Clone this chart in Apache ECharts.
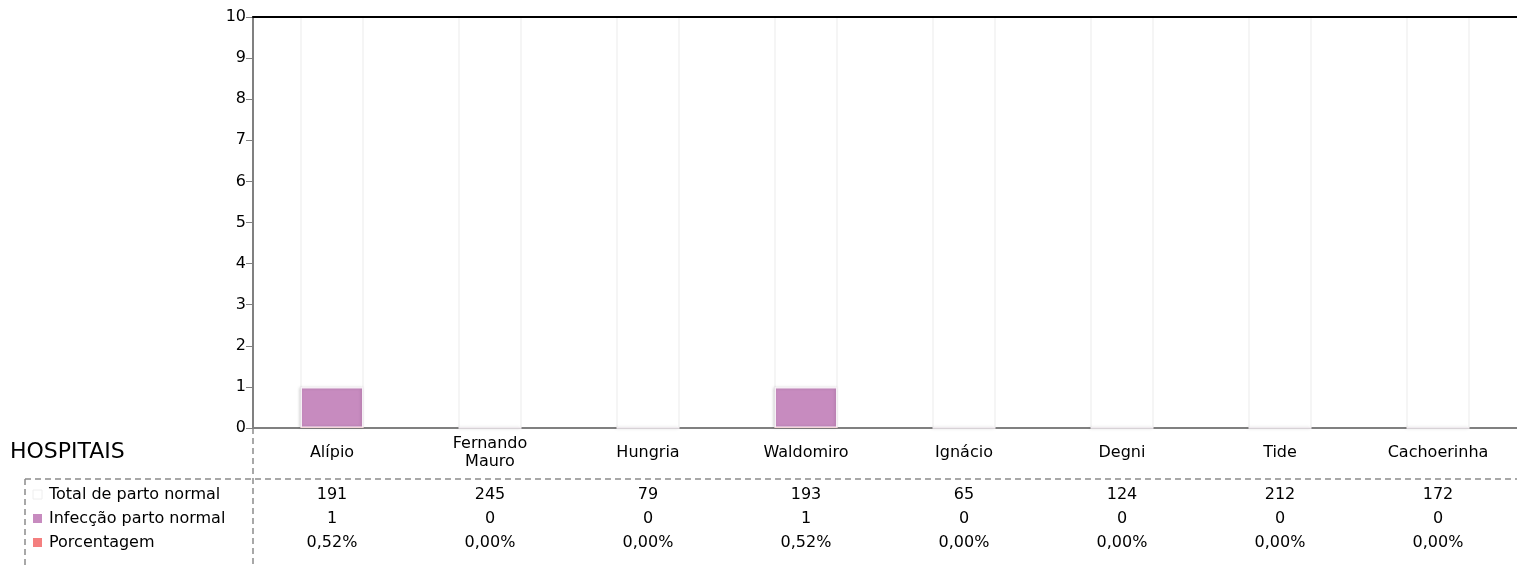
<!DOCTYPE html>
<html><head><meta charset="utf-8">
<script src="https://cdn.jsdelivr.net/npm/echarts@6/dist/echarts.min.js"></script>
<style>html,body{margin:0;padding:0;background:#fff}#c{width:1517px;height:567px}</style>
</head><body><div id="c"></div>
<script>
const categories = ['Alípio','Fernando\nMauro','Hungria','Waldomiro','Ignácio','Degni','Tide','Cachoerinha'];
const totalParto = [191,245,79,193,65,124,212,172];
const infeccao = [1,0,0,1,0,0,0,0];
const porcentagem = [0.0052,0,0,0.0052,0,0,0,0];
const yTicks = [0,1,2,3,4,5,6,7,8,9,10];
const rowNames = ['Total de parto normal','Infecção parto normal','Porcentagem'];
const rowColors = ['#ffffff','#C78BBF','#F47F7F'];

const FONT = 'DejaVu Sans';
const FS = 16;
const fmtPct = v => (v*100).toFixed(2).replace('.',',') + '%';

const chart = echarts.init(document.getElementById('c'), null, {renderer:'canvas'});
const GL = 253, GT = 17, GB = 139;
const axisY = 567 - GB;

function rowAxis(data, y){
  return {
    type:'category', gridIndex:0, position:'bottom', data:data,
    axisLine:{show:false}, axisTick:{show:false}, splitLine:{show:false},
    axisLabel:{margin:y-axisY, verticalAlign:'middle', color:'#000', fontFamily:FONT, fontSize:FS, interval:0}
  };
}

const graphics = [
  {type:'text', x:10, y:452, style:{text:'HOSPITAIS', fill:'#000', font:'22px "DejaVu Sans"', verticalAlign:'middle'}},
  {type:'line', shape:{x1:GL, y1:axisY, x2:GL, y2:567}, style:{stroke:'#8c8c8c', lineWidth:1.5, lineDash:[6,4]}},
  {type:'line', shape:{x1:25, y1:479, x2:1517, y2:479}, style:{stroke:'#8c8c8c', lineWidth:1.5, lineDash:[6,4]}},
  {type:'line', shape:{x1:25, y1:479, x2:25, y2:567}, style:{stroke:'#8c8c8c', lineWidth:1.5, lineDash:[6,4]}}
];
const rowYs = [494,518,542];
rowNames.forEach((n,i)=>{
  graphics.push({type:'rect', shape:{x:33, y:rowYs[i]-4, width:9, height:9},
    style:{fill:rowColors[i], stroke: i===0 ? '#eeeeee' : null, lineWidth:1}});
  graphics.push({type:'text', x:49, y:rowYs[i]+1, style:{text:n, fill:'#000', font:FS+'px "DejaVu Sans"', verticalAlign:'middle'}});
});

chart.setOption({
  animation:false,
  grid:{left:GL, right:0, top:GT, bottom:GB, containLabel:false},
  xAxis:[
    {type:'category', data:categories,
     axisLine:{lineStyle:{color:'#808080', width:2}}, axisTick:{show:false},
     splitLine:{show:false},
     axisLabel:{margin:25, verticalAlign:'middle', lineHeight:18, color:'#000', fontFamily:FONT, fontSize:FS, interval:0}},
    rowAxis(totalParto.map(String), 495),
    rowAxis(infeccao.map(String), 519),
    rowAxis(porcentagem.map(fmtPct), 543),
    {type:'category', position:'top', data:categories, gridIndex:0, z:10,
     axisLine:{lineStyle:{color:'#000', width:2}}, axisTick:{show:false}, axisLabel:{show:false}}
  ],
  yAxis:{type:'value', min:0, max:10, interval:1,
    axisLine:{show:true, lineStyle:{color:'#808080', width:2}},
    axisTick:{show:true, length:7, lineStyle:{color:'#808080'}},
    splitLine:{show:false},
    axisLabel:{margin:7, color:'#000', fontFamily:FONT, fontSize:FS,
      formatter: v => yTicks.includes(v) ? String(v) : ''}},
  series:[
    {name:rowNames[0], type:'bar', data:totalParto, barWidth:63, barGap:'-100%',
     itemStyle:{color:'#ffffff', borderColor:'#ebebeb', borderWidth:1}, z:1},
    {name:rowNames[1], type:'bar', data:infeccao, barWidth:63, barGap:'-100%',
     itemStyle:{color:'#C78BBF', borderColor:'#f6f0f5', borderWidth:1.5,
       shadowColor:'rgba(0,0,0,0.15)', shadowBlur:3, shadowOffsetX:-1}, z:3},
    {name:rowNames[2], type:'bar', data:porcentagem, barWidth:63, barGap:'-100%',
     itemStyle:{color:'#F47F7F'}, z:4}
  ],
  graphic:graphics
});
</script></body></html>
